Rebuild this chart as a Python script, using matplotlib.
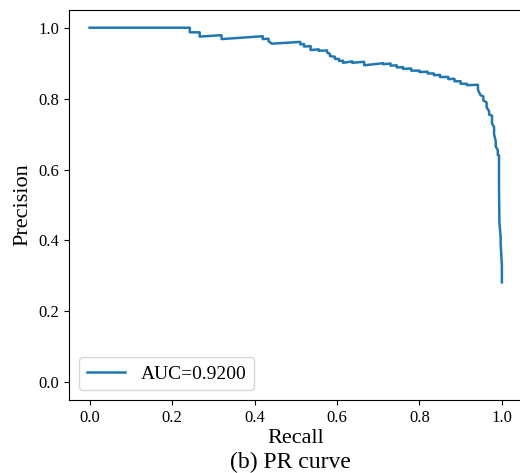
import matplotlib
matplotlib.use("Agg")
import matplotlib.pyplot as plt

plt.rcParams['font.family'] = ['Liberation Serif', 'DejaVu Serif']

# PR curve (step corners included)
recall = [0.0, 0.243, 0.243, 0.267, 0.267, 0.32, 0.32, 0.42, 0.42, 0.434,
          0.434, 0.442, 0.511, 0.511, 0.52, 0.52, 0.536, 0.536, 0.556, 0.556,
          0.576, 0.576, 0.583, 0.583, 0.595, 0.595, 0.605, 0.605, 0.615, 0.615,
          0.637, 0.637, 0.666, 0.666, 0.712, 0.712, 0.73, 0.73, 0.745, 0.745,
          0.76, 0.76, 0.78, 0.78, 0.80, 0.80, 0.82, 0.82, 0.835, 0.835,
          0.85, 0.85, 0.87, 0.87, 0.885, 0.885, 0.90, 0.90, 0.915, 0.915,
          0.942, 0.942, 0.948, 0.955, 0.955, 0.963, 0.963, 0.969, 0.969, 0.976,
          0.976, 0.981, 0.981, 0.985, 0.985, 0.99, 0.99, 0.993, 0.993, 0.994,
          0.997, 0.997, 1.0, 1.0]
precision = [1.0, 1.0, 0.987, 0.987, 0.975, 0.979, 0.968, 0.976, 0.968, 0.969,
             0.962, 0.955, 0.96, 0.953, 0.954, 0.947, 0.948, 0.937, 0.939, 0.935,
             0.936, 0.93, 0.926, 0.92, 0.918, 0.912, 0.912, 0.906, 0.907, 0.901,
             0.905, 0.901, 0.904, 0.894, 0.9, 0.897, 0.899, 0.893, 0.894, 0.888,
             0.889, 0.884, 0.885, 0.879, 0.879, 0.875, 0.876, 0.871, 0.871, 0.866,
             0.867, 0.861, 0.861, 0.855, 0.856, 0.849, 0.849, 0.842, 0.842, 0.838,
             0.839, 0.825, 0.81, 0.806, 0.795, 0.789, 0.775, 0.765, 0.755, 0.752,
             0.73, 0.72, 0.7, 0.68, 0.665, 0.655, 0.642, 0.64, 0.55, 0.45,
             0.41, 0.39, 0.33, 0.282]
auc = 0.92

fig = plt.figure(figsize=(5.2, 4.73), dpi=100)
ax = fig.add_axes([69/520, 73/473, (522.5-69)/520, 390/473])

ax.plot(recall, precision, color='#1f77b4', lw=1.8, label='AUC=%.4f' % auc)
ax.set_xlim(-0.05, 1.05)
ax.set_ylim(-0.05, 1.05)
ax.set_xticks([0, 0.2, 0.4, 0.6, 0.8, 1.0])
ax.set_yticks([0, 0.2, 0.4, 0.6, 0.8, 1.0])
ax.spines['right'].set_visible(False)  # cropped off in the original
ax.tick_params(labelsize=12)
ax.set_xlabel('Recall', fontsize=16, labelpad=2)
ax.set_ylabel('Precision', fontsize=16)
ax.legend(loc='lower left', fontsize=14)

fig.text(0.5 * (69 + 522.5) / 520 - 0.01, 11/473, '(b) PR curve', fontsize=17,
         ha='center', va='center')

fig.savefig('out.png', dpi=100)
